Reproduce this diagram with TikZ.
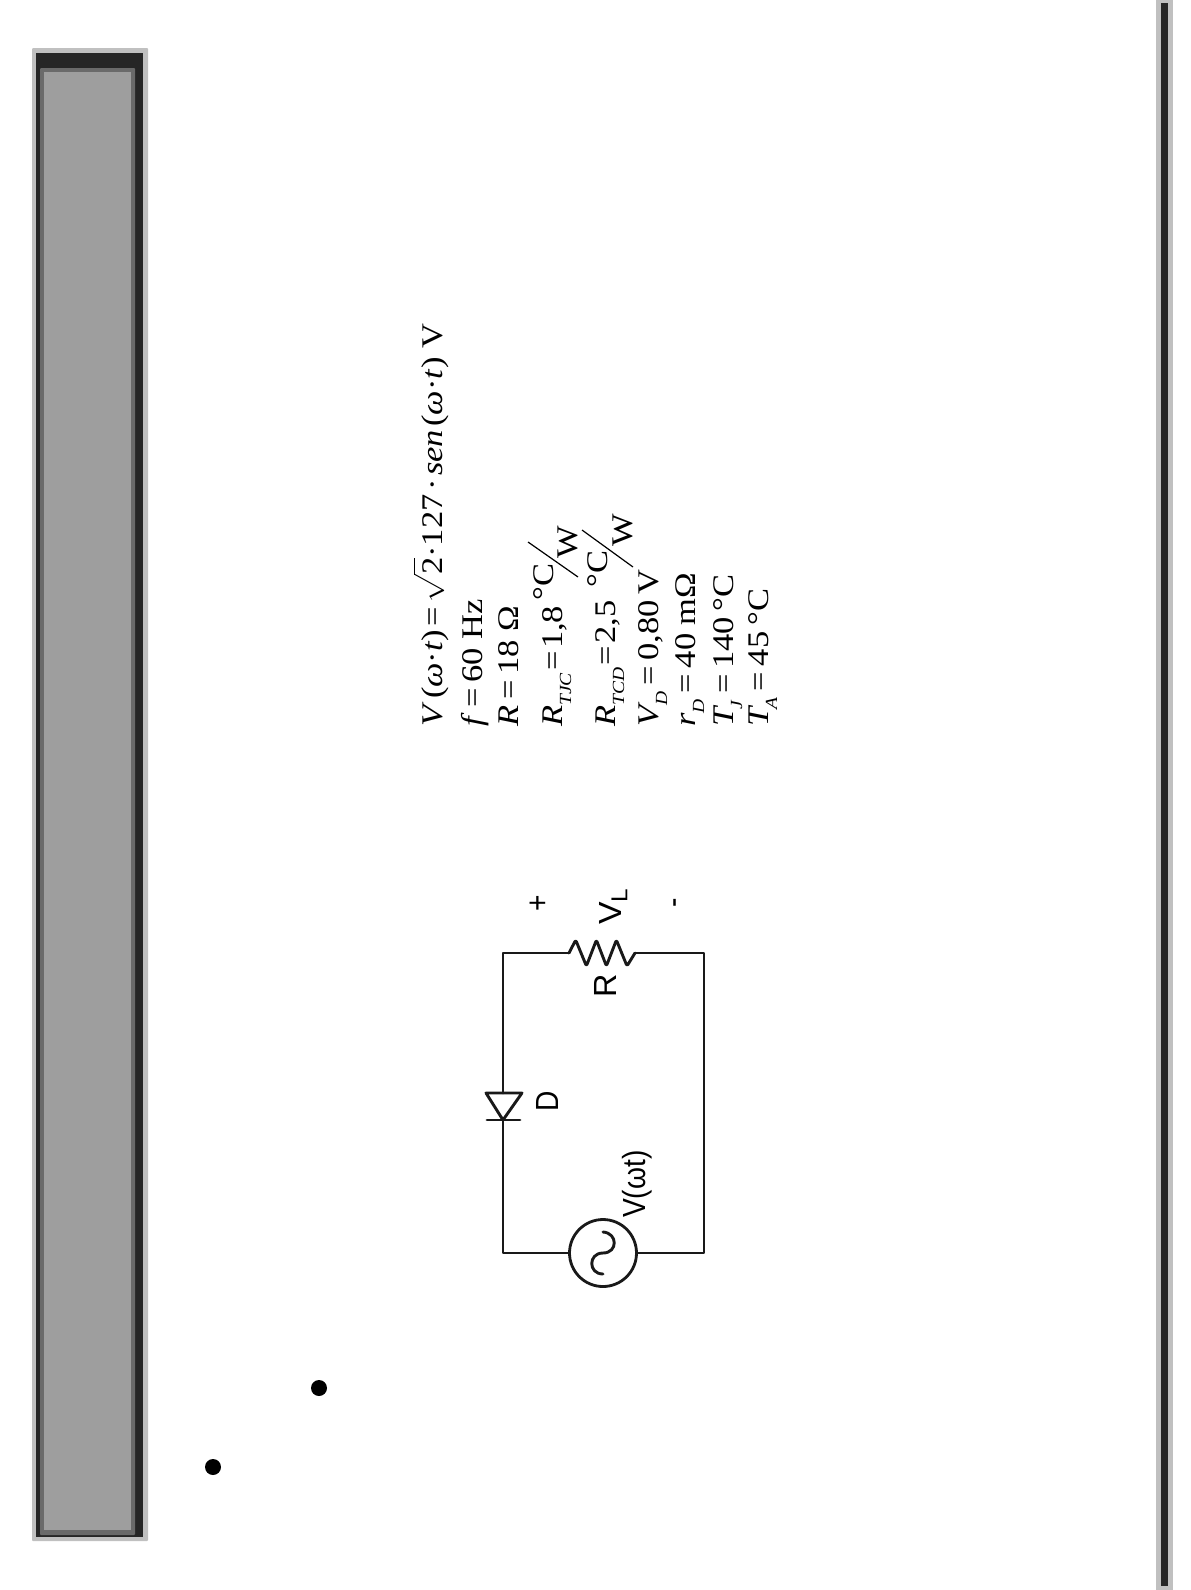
\documentclass[tikz,border=0pt]{standalone}
\usepackage{amsmath}
\usepackage{fontspec}
\setmainfont{Liberation Serif}
\newfontfamily\wirefont{Liberation Sans}
\definecolor{barlight}{HTML}{C0C0C0}
\definecolor{bardark}{HTML}{262626}
\definecolor{barmid}{HTML}{6A6A6A}
\definecolor{barfill}{HTML}{9E9E9E}
\newcommand{\ig}[1]{\textit{#1}}
\newcommand{\lo}[1]{\raisebox{-0.3em}{\fontsize{17}{17}\selectfont\textit{#1}}}
\newcommand{\eqs}{\,=\,}
\newcommand{\gp}{\kern3pt}
\newcommand{\eqt}{\kern2pt=\kern2pt}
\tikzset{
    formula/.style={rotate=90, xscale=1.15, anchor=base west, inner sep=0pt, font=\fontsize{30}{30}\selectfont},
    wirelabel/.style={rotate=90, xscale=0.88, inner sep=0pt, font=\wirefont\fontsize{32}{32}\selectfont},
    wire/.style={line width=2.9pt, black!90, line cap=round, line join=round}
}

\begin{document}
\begin{tikzpicture}[x=1pt,y=-1pt]
    \useasboundingbox (0,0) rectangle (1191,1590);

    % Draw the left bar
    \fill[barlight, rounded corners=1pt] (32,48) rectangle (148,1541);
    \fill[bardark] (36,53) rectangle (143,1537);
    \fill[barmid, rounded corners=1pt] (40,68) rectangle (135,1535);
    \fill[barfill] (44,72) rectangle (131,1530);

    % Draw the right bar
    \fill[barlight] (1156,0) rectangle (1173,1590);
    \fill[bardark] (1161,3) rectangle (1168,1586);

    % Bullets
    \fill[black] (319,1388) circle (8pt);
    \fill[black] (213,1467) circle (8pt);

    % Formula lines
    \node[formula] (volt) at (442,727) {\ig{V}\gp(\ig{ω}·\ig{t})\gp=\gp$\sqrt{\rule{0pt}{23pt}\text{2}}$·127\gp·\gp\ig{sen}\gp(\ig{ω}·\ig{t}) V};
    \node[formula] (freq) at (482,727) {\ig{f}\eqs 60 Hz};
    \node[formula] (res) at (518,727) {\ig{R}\eqs 18 Ω};
    \node[formula] (rtjc) at (562,727) {\ig{R}\lo{TJC}\eqt 1,8};
    \node[formula] (rtjcC) at (553,601) {°C};
    \node[formula] (rtjcW) at (577,559) {W};
    \node[formula] (rtcd) at (615,727) {\ig{R}\lo{TCD}\eqt 2,5};
    \node[formula] (rtcdC) at (607,588) {°C};
    \node[formula] (rtcdW) at (632,547) {W};
    \node[formula] (vd) at (658,727) {\ig{V}\kern-3pt\lo{D}\eqs 0,80\,V};
    \node[formula] (rd) at (695,727) {\ig{r}\lo{D}\eqs 40 mΩ};
    \node[formula] (tj) at (733,727) {\ig{T}\kern-3pt\lo{J}\eqs 140\,°C};
    \node[formula] (ta) at (768,727) {\ig{T}\kern-3pt\lo{A}\eqs 45\,°C};

    % Fraction slashes
    \draw[line width=1.2pt] (528,542) -- (578,577);
    \draw[line width=1.2pt] (582,530) -- (633,567);

    % Circuit corners and parts
    \coordinate (tl) at (503,953);
    \coordinate (tr) at (704,953);
    \coordinate (bl) at (503,1253);
    \coordinate (br) at (704,1253);
    \coordinate (resA) at (569,953);
    \coordinate (resB) at (635,953);
    \coordinate (diodeA) at (503,1093);
    \coordinate (diodeB) at (503,1120);
    \node[circle, draw=black!90, line width=2.8pt, minimum size=67pt, inner sep=0pt] (src) at (603,1253) {};

    % Wires
    \draw[wire] (resA) -- (tl) -- (diodeA);
    \draw[wire] (diodeB) -- (bl) -- (src);
    \draw[wire] (src) -- (br) -- (tr) -- (resB);

    % Resistor
    \draw[wire, rounded corners=1.5pt] (resA) -- ++(6.7,-13) -- ++(10.7,26) -- ++(10,-26) -- ++(10,26) -- ++(10,-26) -- ++(10.6,26) -- (resB);

    % Diode
    \draw[wire] (486,1093) -- (522,1093) -- (diodeB) -- cycle;
    \draw[wire] (487,1120) -- (520,1120);

    % Wave inside the source
    \draw[wire] (603,1232) .. controls (618,1233) and (618,1253) .. (603,1253)
        .. controls (588,1253) and (588,1274) .. (603,1274);

    % Labels
    \node[wirelabel] (plus) at (539,903) {+};
    \node[wirelabel] (minus) at (679,903) {-};
    \node[wirelabel, xscale=1.2, anchor=base west] (vl) at (621,925) {V\raisebox{-0.2em}{\fontsize{23}{23}\selectfont L}};
    \node[wirelabel, xscale=1.15] (rlabel) at (605,986) {R};
    \node[wirelabel] (dlabel) at (547,1101) {D};
    \node[wirelabel, anchor=base west] (vsrc) at (645,1218) {V(ωt)};
\end{tikzpicture}
\end{document}
